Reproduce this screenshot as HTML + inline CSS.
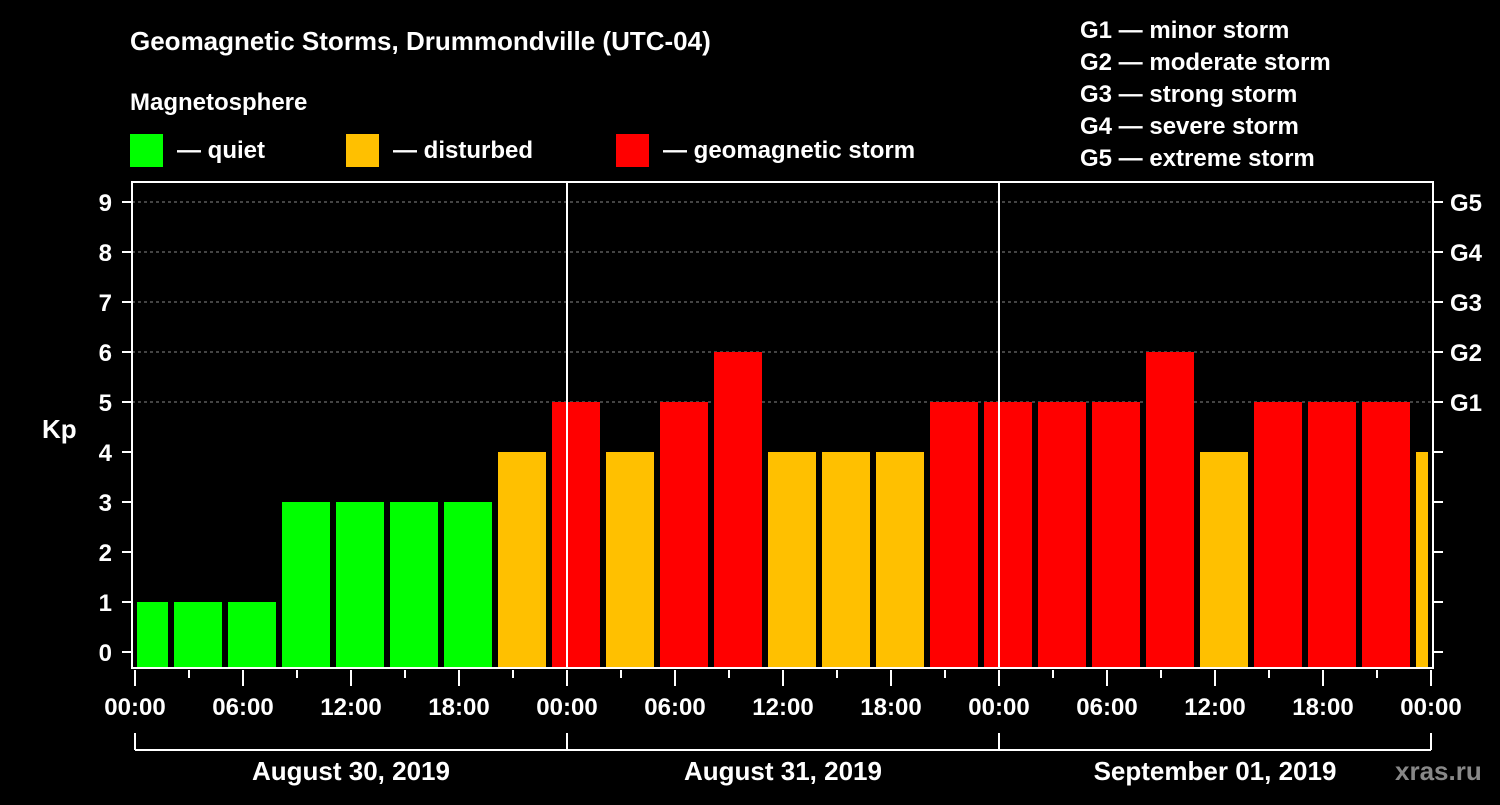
<!DOCTYPE html>
<html><head><meta charset="utf-8"><style>
body{margin:0;background:#000;}
svg text{font-family:"Liberation Sans",sans-serif;font-weight:bold;fill:#fff;}
</style></head><body>
<svg id="chart" width="1500" height="800" viewBox="0 0 1500 800">
<rect width="1500" height="800" fill="#000"/>
<text x="130" y="50" font-size="26">Geomagnetic Storms, Drummondville (UTC-04)</text>
<text x="130" y="110" font-size="24">Magnetosphere</text>
<g><rect x="130" y="134" width="33" height="33" fill="#00ff00"/><text x="177" y="158" font-size="24">— quiet</text></g>
<g><rect x="346" y="134" width="33" height="33" fill="#ffc000"/><text x="393" y="158" font-size="24">— disturbed</text></g>
<g><rect x="616" y="134" width="33" height="33" fill="#ff0000"/><text x="663" y="158" font-size="24">— geomagnetic storm</text></g>
<g font-size="24">
<text x="1080" y="38">G1 — minor storm</text>
<text x="1080" y="70">G2 — moderate storm</text>
<text x="1080" y="102">G3 — strong storm</text>
<text x="1080" y="134">G4 — severe storm</text>
<text x="1080" y="166">G5 — extreme storm</text>
</g>
<text x="42" y="438" font-size="26">Kp</text>
<g id="grid"></g><g id="bars"></g><g id="axes"></g>
<text x="1395" y="780" font-size="26" fill="#888" style="fill:#888">xras.ru</text>
</svg>
<script>
const kpValues=[1,1,1,3,3,3,3,4,5,4,5,6,4,4,4,5,5,5,5,6,4,5,5,5,4];
const startHour=-1;
const yTicks=[0,1,2,3,4,5,6,7,8,9];
const gLabels=["G1","G2","G3","G4","G5"];
const xLabels=["00:00","06:00","12:00","18:00","00:00","06:00","12:00","18:00","00:00","06:00","12:00","18:00","00:00"];
const dayLabels=["August 30, 2019","August 31, 2019","September 01, 2019"];
const NS="http://www.w3.org/2000/svg";
const X0=135,PX_H=18,Y0=652,PX_K=50,TOP=182,BOT=668,LEFT=132,RIGHT=1433;
const xs=h=>X0+h*PX_H, ys=v=>Y0-v*PX_K;
function mk(p,t,a){const e=document.createElementNS(NS,t);for(const k in a)e.setAttribute(k,a[k]);p.appendChild(e);return e;}
const grid=document.getElementById('grid'),bars=document.getElementById('bars'),axes=document.getElementById('axes');
yTicks.forEach(v=>{if(v>=5){const l=mk(grid,'line',{x1:LEFT,x2:RIGHT,y1:ys(v),y2:ys(v),stroke:'#888','stroke-dasharray':'3,3'});

}
mk(axes,'line',{x1:122,x2:LEFT,y1:ys(v),y2:ys(v),stroke:'#fff','stroke-width':2});
mk(axes,'line',{x1:RIGHT,x2:1443,y1:ys(v),y2:ys(v),stroke:'#fff','stroke-width':2});
const t=mk(axes,'text',{x:112,y:ys(v)+9,'font-size':24,'text-anchor':'end'});t.textContent=v;


if(v>=5){const g=mk(axes,'text',{x:1450,y:ys(v)+9,'font-size':24});g.textContent=gLabels[v-5];

}});
const endH=72;
kpValues.forEach((v,i)=>{let h0=startHour+3*i,h1=h0+3;let x0=Math.max(xs(h0)+3,X0+2),x1=Math.min(xs(h1)-3,xs(endH)-3);
const c=v>=5?'#ff0000':(v>=4?'#ffc000':'#00ff00');
const r=mk(bars,'rect',{x:x0,y:ys(v),width:x1-x0,height:BOT-ys(v),fill:c});

});
mk(axes,'rect',{x:LEFT,y:TOP,width:RIGHT-LEFT,height:BOT-TOP,fill:'none',stroke:'#fff','stroke-width':2});
[1,2].forEach(d=>mk(axes,'line',{x1:xs(24*d),x2:xs(24*d),y1:TOP,y2:BOT,stroke:'#fff','stroke-width':2}));
for(let h=0;h<=72;h+=3){mk(axes,'line',{x1:xs(h),x2:xs(h),y1:BOT+2,y2:h%6?678:686,stroke:'#fff','stroke-width':2});}
xLabels.forEach((s,i)=>{const t=mk(axes,'text',{x:xs(i*6),y:715,'font-size':24,'text-anchor':'middle'});t.textContent=s;

});
mk(axes,'line',{x1:xs(0),x2:xs(72),y1:750,y2:750,stroke:'#fff','stroke-width':2});
[0,1,2,3].forEach(d=>mk(axes,'line',{x1:xs(24*d),x2:xs(24*d),y1:733,y2:750,stroke:'#fff','stroke-width':2}));
dayLabels.forEach((s,i)=>{const t=mk(axes,'text',{x:xs(24*i+12),y:780,'font-size':26,'text-anchor':'middle'});t.textContent=s;

});
</script>
</body></html>
